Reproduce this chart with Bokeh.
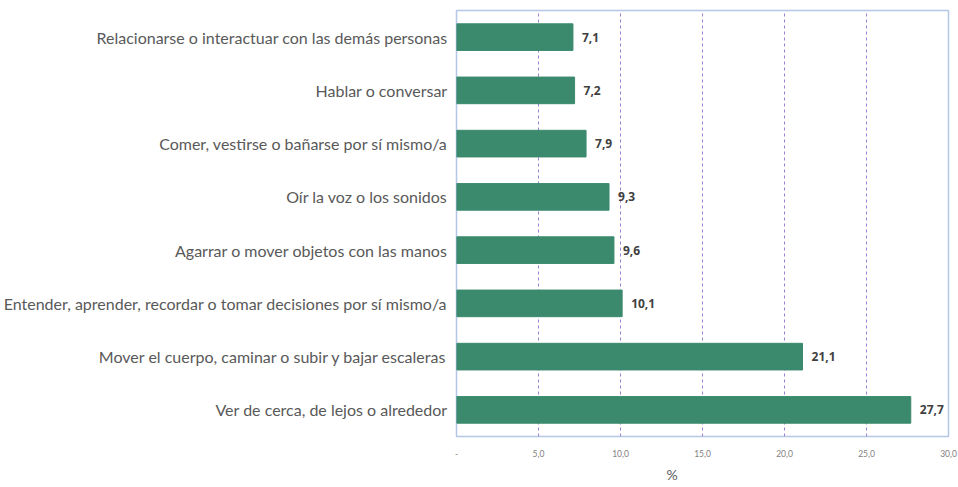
from bokeh.plotting import figure
from bokeh.models import ColumnDataSource, FixedTicker, Range1d, LabelSet, Title
from bokeh.core.properties import value
from bokeh.embed import file_html
from bokeh.resources import INLINE

categories = [
    "Relacionarse o interactuar con las demás personas",
    "Hablar o conversar",
    "Comer, vestirse o bañarse por sí mismo/a",
    "Oír la voz o los sonidos",
    "Agarrar o mover objetos con las manos",
    "Entender, aprender, recordar o tomar decisiones por sí mismo/a",
    "Mover el cuerpo, caminar o subir y bajar escaleras",
    "Ver de cerca, de lejos o alrededor",
]
values = [7.1, 7.2, 7.9, 9.3, 9.6, 10.1, 21.1, 27.7]
tick_values = [0, 5, 10, 15, 20, 25, 30]
tick_labels = ["-", "5,0", "10,0", "15,0", "20,0", "25,0", "30,0"]
axis_title = "%"

labels = [f"{v:.1f}".replace(".", ",") for v in values]
source = ColumnDataSource(dict(cat=categories, val=values, lab=labels))

p = figure(
    width=958, height=487,
    y_range=list(reversed(categories)),
    x_range=Range1d(0, 30),
    output_backend="svg", toolbar_location=None,
    min_border_left=456, min_border_right=10, min_border_top=10, min_border_bottom=51,
)
p.hbar(y="cat", right="val", left=0, height=0.5, source=source,
       fill_color="#3b8a6e", line_color="#3b8a6e")

ls = LabelSet(x="val", y="cat", text="lab", source=source, x_offset=9,
              text_baseline="middle", text_font_size=value("12px"),
              text_font_style=value("bold"),
              text_color=value("#404040"), text_font=value("Open Sans"))
p.add_layout(ls)

p.xaxis.ticker = FixedTicker(ticks=tick_values)
p.xaxis.major_label_overrides = {v: l for v, l in zip(tick_values, tick_labels)}
p.xaxis.major_label_text_font_size = "8.5px"
p.xaxis.major_label_text_color = "#7f7f7f"
p.xaxis.major_label_text_font = "Lato"
p.xaxis.major_label_standoff = 7
p.xaxis.axis_line_color = None
p.xaxis.major_tick_line_color = None
p.xaxis.minor_tick_line_color = None

p.add_layout(Title(text=axis_title, align="left", offset=210, standoff=9,
                   text_font_size="14px", text_font_style="normal",
                   text_color="#595959", text_font="Lato"), "below")

p.yaxis.axis_line_color = None
p.yaxis.major_tick_line_color = None
p.yaxis.minor_tick_line_color = None
p.yaxis.major_label_text_font_size = "16px"
p.yaxis.major_label_text_color = "#595959"
p.yaxis.major_label_text_font = "Lato"
p.yaxis.major_label_standoff = 3

p.ygrid.grid_line_color = None
p.xgrid.ticker = FixedTicker(ticks=[5, 10, 15, 20, 25])
p.xgrid.grid_line_color = "#9b7fd4"
p.xgrid.grid_line_dash = "3 3"
p.xgrid.grid_line_width = 1

p.outline_line_color = "#b4c7e7"
p.outline_line_width = 1.5

open("out.html", "w").write(file_html(p, INLINE))
